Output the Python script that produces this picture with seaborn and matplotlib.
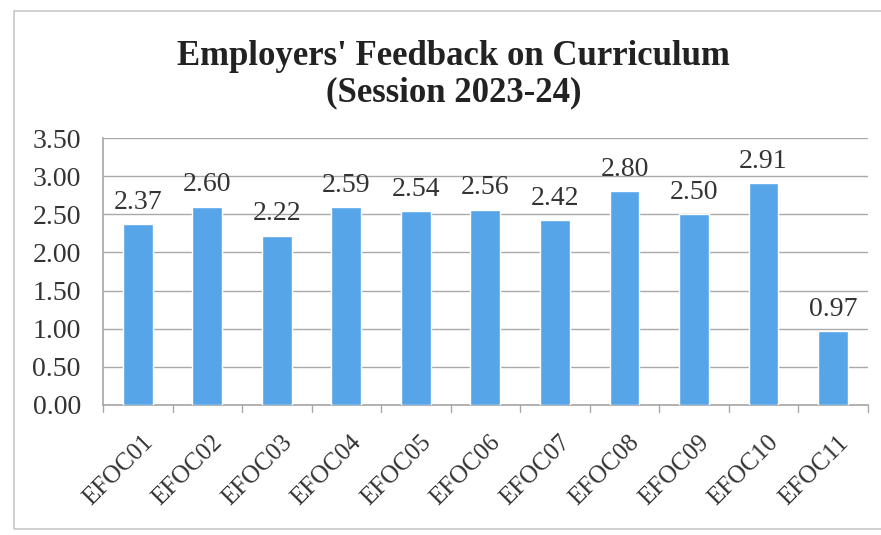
import matplotlib
matplotlib.use("Agg")
import matplotlib.pyplot as plt
import seaborn as sns
import pandas as pd
from matplotlib.patches import Rectangle
import matplotlib.transforms as mtransforms

categories = ["EFOC01", "EFOC02", "EFOC03", "EFOC04", "EFOC05", "EFOC06",
              "EFOC07", "EFOC08", "EFOC09", "EFOC10", "EFOC11"]
values = [2.37, 2.60, 2.22, 2.59, 2.54, 2.56, 2.42, 2.80, 2.50, 2.91, 0.97]
yticks = [0.0, 0.5, 1.0, 1.5, 2.0, 2.5, 3.0, 3.5]
title = "Employers' Feedback on Curriculum\n(Session 2023-24)"

sns.set_theme(style="white")
plt.rcParams['font.family'] = ['Liberation Serif', 'DejaVu Serif']

df = pd.DataFrame({"cat": categories, "val": values})

fig = plt.figure(figsize=(8.81, 5.35), dpi=100)
ax = fig.add_axes([0.117, 0.243, 0.868, 0.499])

bar_color = "#55a5e8"
sns.barplot(data=df, x="cat", y="val", color=bar_color, width=0.43,
            saturation=1, ax=ax, zorder=3)

ax.set_ylim(0, 3.5)
ax.set_xlim(-0.5, len(categories) - 0.5)
ax.set_yticks(yticks)
ax.set_yticklabels([f"{t:.2f}" for t in yticks], fontsize=20, color="#333333")
ax.yaxis.grid(True, color="#a9a9a9", linewidth=1.0, zorder=0)
ax.set_axisbelow(True)

ax.set_xticks(range(len(categories)))
ax.set_xticklabels(categories, rotation=45, ha="right", va="top",
                   rotation_mode="anchor", fontsize=18, color="#333333")
ax.tick_params(axis="x", length=0, pad=19)
ax.tick_params(axis="y", length=5, color="#a9a9a9", direction="out", pad=11)
offset = mtransforms.ScaledTranslation(4 / 100, 0, fig.dpi_scale_trans)
for lbl in ax.get_xticklabels():
    lbl.set_transform(lbl.get_transform() + offset)
# category boundary tick marks
for b in [i - 0.5 for i in range(len(categories) + 1)]:
    ax.plot([b, b], [0, -0.09], color="#a9a9a9", lw=1, clip_on=False, zorder=1)

ax.set_xlabel("")
ax.set_ylabel("")
for s in ["top", "right"]:
    ax.spines[s].set_visible(False)
ax.spines["left"].set_color("#a9a9a9")
ax.spines["bottom"].set_color("#a9a9a9")

for i, v in enumerate(values):
    ax.text(i, v + 0.2, f"{v:.2f}", ha="center", va="baseline", fontsize=20,
            color="#333333")

fig.text(0.515, 0.86, title, ha="center", va="center", fontsize=25,
         fontweight="bold", color="#222222", linespacing=1.15)

fig.patches.append(Rectangle((14 / 881, 1 - 529 / 535), (890 - 14) / 881, (529 - 11) / 535,
                             transform=fig.transFigure, fill=False,
                             edgecolor="#c8c8c8", linewidth=1.2))

fig.savefig("out.png", dpi=100)
